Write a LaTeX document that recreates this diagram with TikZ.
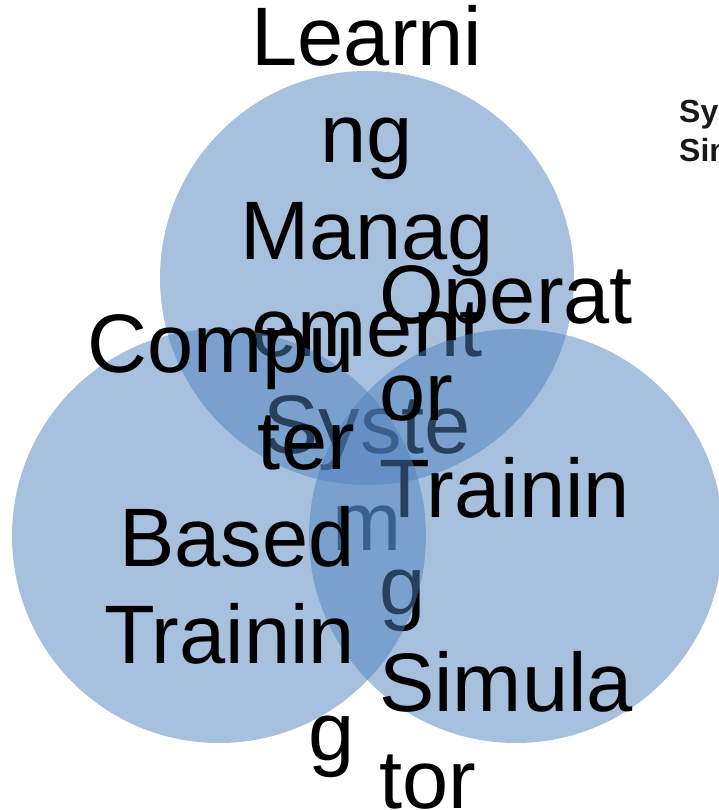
\documentclass[tikz,border=0pt]{standalone}
\usepackage{fontspec}
\setmainfont{Liberation Sans}
\definecolor{vennblue}{HTML}{4F81BD}
\begin{document}
\begin{tikzpicture}[x=1pt,y=-1pt,
  venn/.style={fill=vennblue,fill opacity=0.5,draw=none},
  bigtext/.style={inner sep=0pt,font=\fontsize{83}{97}\selectfont,text=black},
  smalltext/.style={inner sep=0pt,font=\bfseries\fontsize{32}{39}\selectfont,text=black!90,align=left,anchor=base west}]
\useasboundingbox (0,0) rectangle (719,810);
\fill[venn] (367,278) circle[radius=207];
\node[bigtext,align=center,anchor=base] (lms) at (367,550)
  {Learni\\ng\\Manag\\ement\\Syste\\m};
\fill[venn] (516,536) circle[radius=207];
\node[bigtext,align=left,anchor=base west] (ots) at (379,808)
  {Operat\\or\\Trainin\\g\\Simula\\tor};
\fill[venn] (219,536) circle[radius=207];
\node[bigtext,align=right,anchor=base east] (cbt) at (355,760)
  {Compu\\ter\\Based\\Trainin\\g};
\node[smalltext] (sys) at (679,162) {System\\Simulator};
\end{tikzpicture}
\end{document}
